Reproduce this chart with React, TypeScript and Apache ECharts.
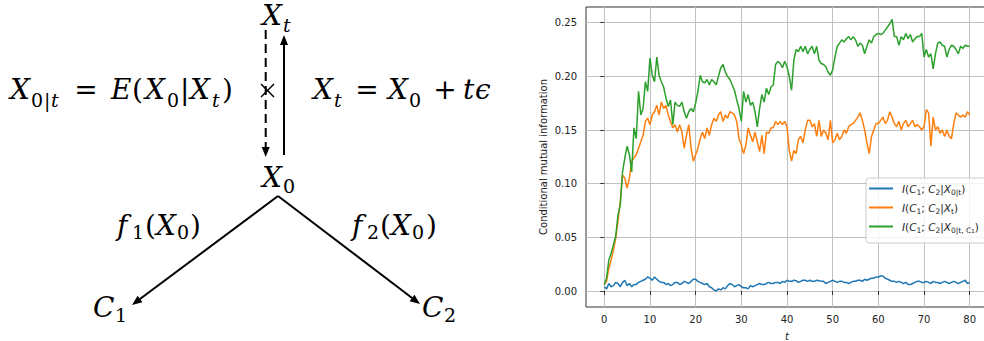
import React, { useEffect, useRef } from 'react';
import * as echarts from 'echarts';

// sampling step of t (the x axis)
const T_STEP = 0.5;

// I(C1; C2 | X_{0|t})
const BLUE = [
  0.004, 0.002, 0.007, 0.004, 0.005, 0.008, 0.007, 0.004, 0.008, 0.010,
  0.005, 0.007, 0.004, 0.006, 0.006, 0.008, 0.009, 0.010, 0.011, 0.013,
  0.012, 0.010, 0.013, 0.011, 0.009, 0.008, 0.008, 0.006, 0.007, 0.005,
  0.006, 0.008, 0.008, 0.006, 0.007, 0.009, 0.008, 0.007, 0.009, 0.011,
  0.011, 0.009, 0.008, 0.007, 0.006, 0.007, 0.004, 0.003, 0.001, 0.000,
  0.002, 0.001, 0.003, 0.002, 0.005, 0.007, 0.006, 0.004, 0.005, 0.006,
  0.004, 0.003, 0.003, 0.002, 0.005, 0.004, 0.005, 0.006, 0.007, 0.006,
  0.006, 0.007, 0.008, 0.007, 0.007, 0.008, 0.008, 0.007, 0.009, 0.008,
  0.010, 0.009, 0.009, 0.010, 0.0096, 0.008, 0.009, 0.010, 0.010, 0.009,
  0.010, 0.009, 0.009, 0.010, 0.0096, 0.009, 0.009, 0.007, 0.008, 0.009,
  0.010, 0.009, 0.008, 0.009, 0.009, 0.008, 0.008, 0.007, 0.008, 0.009,
  0.009, 0.010, 0.010, 0.009, 0.011, 0.010, 0.011, 0.012, 0.012, 0.013,
  0.013, 0.014, 0.014, 0.012, 0.011, 0.010, 0.009, 0.009, 0.008, 0.009,
  0.008, 0.007, 0.008, 0.006, 0.006, 0.007, 0.008, 0.009, 0.009, 0.008,
  0.008, 0.009, 0.008, 0.007, 0.009, 0.008, 0.008, 0.007, 0.008, 0.009,
  0.008, 0.007, 0.008, 0.009, 0.008, 0.007, 0.008, 0.009, 0.010, 0.007,
  0.008,
];

// I(C1; C2 | X_t)
const ORANGE = [
  0.006, 0.009, 0.021, 0.029, 0.038, 0.049, 0.065, 0.083, 0.108, 0.105,
  0.096, 0.105, 0.121, 0.124, 0.127, 0.133, 0.139, 0.145, 0.158, 0.161,
  0.155, 0.164, 0.167, 0.173, 0.164, 0.176, 0.170, 0.173, 0.164, 0.158,
  0.152, 0.155, 0.148, 0.155, 0.148, 0.133, 0.145, 0.155, 0.133, 0.121,
  0.127, 0.133, 0.142, 0.148, 0.142, 0.152, 0.145, 0.155, 0.161, 0.158,
  0.164, 0.167, 0.158, 0.164, 0.161, 0.167, 0.166, 0.164, 0.158, 0.142,
  0.136, 0.128, 0.136, 0.152, 0.145, 0.139, 0.148, 0.139, 0.130, 0.145,
  0.128, 0.148, 0.147, 0.152, 0.152, 0.158, 0.155, 0.158, 0.155, 0.158,
  0.153, 0.131, 0.121, 0.131, 0.128, 0.141, 0.144, 0.138, 0.150, 0.159,
  0.159, 0.153, 0.156, 0.144, 0.159, 0.144, 0.150, 0.147, 0.141, 0.159,
  0.138, 0.141, 0.147, 0.141, 0.144, 0.150, 0.147, 0.153, 0.155, 0.156,
  0.159, 0.162, 0.166, 0.159, 0.150, 0.138, 0.128, 0.144, 0.150, 0.156,
  0.156, 0.159, 0.162, 0.156, 0.159, 0.167, 0.162, 0.156, 0.153, 0.158,
  0.150, 0.156, 0.159, 0.153, 0.156, 0.159, 0.153, 0.155, 0.153, 0.150,
  0.153, 0.169, 0.166, 0.135, 0.162, 0.150, 0.153, 0.147, 0.150, 0.144,
  0.150, 0.144, 0.142, 0.156, 0.166, 0.164, 0.162, 0.164, 0.162, 0.167,
  0.164,
];

// I(C1; C2 | X_{0|t, C1})
const GREEN = [
  0.006, 0.012, 0.029, 0.035, 0.043, 0.051, 0.071, 0.080, 0.111, 0.124,
  0.135, 0.127, 0.111, 0.152, 0.142, 0.186, 0.164, 0.170, 0.195, 0.186,
  0.217, 0.201, 0.195, 0.218, 0.201, 0.195, 0.190, 0.180, 0.172, 0.178,
  0.155, 0.176, 0.173, 0.172, 0.176, 0.167, 0.161, 0.167, 0.170, 0.167,
  0.175, 0.186, 0.201, 0.195, 0.194, 0.197, 0.192, 0.197, 0.195, 0.192,
  0.200, 0.208, 0.211, 0.204, 0.200, 0.197, 0.192, 0.187, 0.178, 0.170,
  0.158, 0.186, 0.176, 0.183, 0.173, 0.176, 0.167, 0.153, 0.170, 0.183,
  0.176, 0.189, 0.183, 0.190, 0.192, 0.211, 0.214, 0.212, 0.208, 0.214,
  0.209, 0.200, 0.187, 0.215, 0.225, 0.223, 0.228, 0.223, 0.228, 0.221,
  0.225, 0.228, 0.221, 0.228, 0.215, 0.212, 0.211, 0.209, 0.204, 0.201,
  0.206, 0.218, 0.228, 0.231, 0.234, 0.232, 0.235, 0.237, 0.234, 0.237,
  0.234, 0.228, 0.231, 0.229, 0.221, 0.228, 0.234, 0.231, 0.237, 0.239,
  0.240, 0.239, 0.240, 0.243, 0.246, 0.249, 0.253, 0.237, 0.237, 0.229,
  0.237, 0.234, 0.240, 0.235, 0.239, 0.232, 0.235, 0.237, 0.237, 0.240,
  0.218, 0.225, 0.218, 0.221, 0.207, 0.221, 0.231, 0.232, 0.229, 0.228,
  0.218, 0.225, 0.229, 0.228, 0.225, 0.221, 0.228, 0.226, 0.229, 0.228,
  0.228,
];

const X_TICKS = [0, 10, 20, 30, 40, 50, 60, 70, 80];
const Y_TICKS = [0, 0.05, 0.1, 0.15, 0.2, 0.25];
const SERIES_NAMES = ['I(C1; C2|X0|t)', 'I(C1; C2|Xt)', 'I(C1; C2|X0|t,C1)'];
const LEGEND_LABELS = [
  '{i|I}{r|(}{i|C}{s|1}{r|; }{i|C}{s|2}{r||}{i|X}{s|0|t}{r|)}',
  '{i|I}{r|(}{i|C}{s|1}{r|; }{i|C}{s|2}{r||}{i|X}{s|t}{r|)}',
  '{i|I}{r|(}{i|C}{s|1}{r|; }{i|C}{s|2}{r||}{i|X}{s|0|t, C}{ss|1}{r|)}',
];
const COLORS = ['#1f77b4', '#ff7f0e', '#2ca02c'];

const SANS = '"DejaVu Sans", sans-serif';
const SERIF = '"DejaVu Serif", serif';

function mt(text: string, x: number, baseline: number, size: number, italic = true, align = 'left') {
  return {
    type: 'text',
    silent: true,
    style: {
      text,
      x,
      y: baseline - 0.346 * size,
      fontSize: size,
      fontFamily: SERIF,
      fontStyle: italic ? 'italic' : 'normal',
      fill: '#000',
      align,
      verticalAlign: 'middle',
    },
  };
}

function line(x1: number, y1: number, x2: number, y2: number, dash?: number[]) {
  return {
    type: 'line',
    silent: true,
    shape: { x1, y1, x2, y2 },
    style: { stroke: '#000', lineWidth: 2, lineDash: dash || null },
  };
}

function arrow(fx: number, fy: number, tx: number, ty: number, dash?: number[]) {
  const dx = tx - fx;
  const dy = ty - fy;
  const L = Math.hypot(dx, dy);
  const ux = dx / L;
  const uy = dy / L;
  const len = 10;
  const hw = 4;
  const bx = tx - ux * len;
  const by = ty - uy * len;
  return [
    line(fx, fy, tx - ux * len * 0.7, ty - uy * len * 0.7, dash),
    {
      type: 'polygon',
      silent: true,
      shape: { points: [[tx, ty], [bx - uy * hw, by + ux * hw], [bx + uy * hw, by - ux * hw]] },
      style: { fill: '#000' },
    },
  ];
}

function diagram() {
  const S = 28;
  const s = 19;
  const B1 = 99.5; // baseline of the middle row of equations
  const b1 = 107;
  return [
    // X_t on top
    mt('X', 262, 25, S), mt('t', 283, 32, s),
    // arrows
    ...arrow(265.7, 30, 265.7, 157, [9, 5]),
    ...arrow(284, 155, 284, 35),
    // cross
    { type: 'line', silent: true, shape: { x1: 261, y1: 84, x2: 274, y2: 97 }, style: { stroke: '#000', lineWidth: 1.5 } },
    { type: 'line', silent: true, shape: { x1: 261, y1: 97, x2: 274, y2: 84 }, style: { stroke: '#000', lineWidth: 1.5 } },
    // left equation
    mt('X', 10, B1, S), mt('0', 31, b1, s, false), mt('|', 44, b1, s, false), mt('t', 51, b1, s),
    mt('=', 86, B1, S, false, 'center'),
    mt('E', 111, B1, S), mt('(', 132, B1, S, false), mt('X', 145, B1, S), mt('0', 167, b1, s, false),
    mt('|', 180, B1, S, false), mt('X', 190, B1, S), mt('t', 212, b1, s), mt(')', 222, B1, S, false),
    // right equation
    mt('X', 313, B1, S), mt('t', 334, b1, s), mt('=', 367, B1, S, false, 'center'),
    mt('X', 388, B1, S), mt('0', 409, b1, s, false), mt('+', 445, B1, S, false, 'center'),
    mt('t', 463, B1, S), mt('\u03f5', 475, B1, S),
    // X_0
    mt('X', 262, 187, S), mt('0', 283, 193, s, false),
    // branches
    ...arrow(278, 196, 132, 305),
    ...arrow(278, 196, 420, 304),
    // f1(X0)
    mt('f', 117, 235, S), mt('1', 132, 239, s, false), mt('(', 145, 235, S, false), mt('X', 156, 235, S),
    mt('0', 177, 239, s, false), mt(')', 190, 235, S, false),
    // f2(X0)
    mt('f', 352, 235, S), mt('2', 367, 239, s, false), mt('(', 380, 235, S, false), mt('X', 391, 235, S),
    mt('0', 412, 239, s, false), mt(')', 426, 235, S, false),
    // C1, C2
    mt('C', 93, 317, S), mt('1', 115, 322, s, false),
    mt('C', 422, 317, S), mt('2', 444, 322, s, false),
  ];
}

export default function App() {
  const ref = useRef<HTMLDivElement>(null);
  useEffect(() => {
    const chart = echarts.init(ref.current!, null, { renderer: 'svg' });
    const T = BLUE.map((_, i) => i * T_STEP);
    const seriesValues = [BLUE, ORANGE, GREEN];
    const axisText = { fontSize: 10, fontFamily: SANS, color: '#222' };
    const option: any = {
      animation: false,
      backgroundColor: '#ffffff',
      grid: {
        left: 586,
        top: 7,
        width: 402,
        height: 300,
        outerBoundsMode: 'none',
        containLabel: false,
        show: true,
        borderColor: '#333',
        borderWidth: 1,
        backgroundColor: 'transparent',
      },
      xAxis: {
        type: 'value',
        min: -4,
        max: 84,
        name: 't',
        nameLocation: 'middle',
        nameGap: 24,
        nameTextStyle: { ...axisText, fontStyle: 'italic' },
        axisLine: { show: false },
        axisTick: { show: true, inside: false, length: 4, customValues: X_TICKS, lineStyle: { color: '#333', width: 1 } },
        axisLabel: { ...axisText, margin: 7, customValues: X_TICKS },
        splitLine: { show: true, lineStyle: { color: '#c0c0c0', width: 1 } },
      },
      yAxis: {
        type: 'value',
        min: -0.0149,
        max: 0.2646,
        name: 'Conditional mutual information',
        nameLocation: 'middle',
        nameGap: 38,
        nameTextStyle: { ...axisText },
        axisLine: { show: false },
        axisTick: { show: true, inside: false, length: 4, customValues: Y_TICKS, lineStyle: { color: '#333', width: 1 } },
        axisLabel: { ...axisText, margin: 9, customValues: Y_TICKS, formatter: (v: number) => v.toFixed(2) },
        splitLine: { show: true, lineStyle: { color: '#c0c0c0', width: 1 } },
      },
      legend: {
        orient: 'vertical',
        left: 866,
        top: 178,
        icon: 'rect',
        itemWidth: 24,
        itemHeight: 2,
        itemGap: 6,
        padding: [5, 12, 9, 3],
        backgroundColor: 'rgba(255,255,255,0.8)',
        borderColor: '#cccccc',
        borderWidth: 1,
        borderRadius: 3,
        selectedMode: false,
        data: SERIES_NAMES,
        formatter: (name: string) => LEGEND_LABELS[SERIES_NAMES.indexOf(name)],
        textStyle: {
          padding: [0, 0, 0, 4],
          rich: {
            i: { fontSize: 10.5, fontFamily: SANS, fontStyle: 'italic', color: '#222', lineHeight: 15, verticalAlign: 'middle' },
            r: { fontSize: 10.5, fontFamily: SANS, color: '#222', lineHeight: 15, verticalAlign: 'middle' },
            s: { fontSize: 7.5, fontFamily: SANS, color: '#222', verticalAlign: 'bottom' },
            ss: { fontSize: 5.5, fontFamily: SANS, color: '#222', verticalAlign: 'bottom' },
          },
        },
      },
      series: seriesValues.map((vals, k) => ({
        name: SERIES_NAMES[k],
        type: 'line',
        data: T.map((t, i) => [t, vals[i]]),
        showSymbol: false,
        symbol: 'none',
        lineStyle: { color: COLORS[k], width: 1.5 },
        itemStyle: { color: COLORS[k] },
        z: 2 + k,
      })),
      graphic: { elements: diagram() },
    };
    chart.setOption(option);
    return () => chart.dispose();
  }, []);
  return (
    <div
      ref={ref}
      style={{ position: 'absolute', left: 0, top: 0, width: 984, height: 341, background: '#fff' }}
    />
  );
}
